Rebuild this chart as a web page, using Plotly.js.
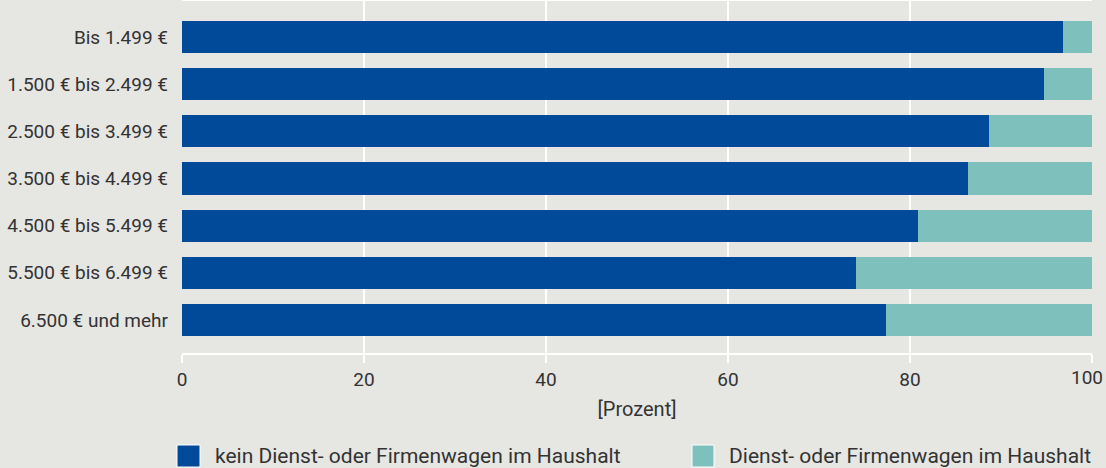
<!DOCTYPE html>
<html>
<head>
<meta charset="utf-8">
<script src="https://cdn.plot.ly/plotly-3.0.1.min.js"></script>
<style>
  html, body { margin: 0; padding: 0; background: #e6e6e2; }
  #chart { width: 1106px; height: 468px; }
</style>
</head>
<body>
<div id="chart"></div>
<script>
const categories = [
  "Bis 1.499 €",
  "1.500 € bis 2.499 €",
  "2.500 € bis 3.499 €",
  "3.500 € bis 4.499 €",
  "4.500 € bis 5.499 €",
  "5.500 € bis 6.499 €",
  "6.500 € und mehr"
];
const seriesNames = [
  "kein Dienst- oder Firmenwagen im Haushalt",
  "Dienst- oder Firmenwagen im Haushalt"
];
const keinDienstwagen = [96.8, 94.7, 88.7, 86.4, 80.9, 74.1, 77.4];
const mitDienstwagen = [3.2, 5.3, 11.3, 13.6, 19.1, 25.9, 22.6];
const xTicks = [0, 20, 40, 60, 80, 100];
const xTitle = "[Prozent]";

const colors = ["#004a99", "#7dc0bc"];
const font = "Roboto, 'DejaVu Sans', sans-serif";
const textColor = "#333333";

const W = 1106, H = 468;
const L = 182, R = 14, T = 1, B = 115;
const pw = W - L - R, ph = H - T - B;
const px = x => (x - L) / pw;
const py = y => (H - B - y) / ph;

const traces = [
  {
    type: "bar", orientation: "h", name: seriesNames[0],
    y: categories, x: keinDienstwagen,
    marker: { color: colors[0] }, hoverinfo: "x+y"
  },
  {
    type: "bar", orientation: "h", name: seriesNames[1],
    y: categories, x: mitDienstwagen,
    marker: { color: colors[1] }, hoverinfo: "x+y"
  }
];

const legendBoxes = [
  { x0: 177, x1: 200, tx: 213 },
  { x0: 692, x1: 714, tx: 727 }
];
const shapes = legendBoxes.map((b, i) => ({
  type: "rect", xref: "paper", yref: "paper",
  x0: px(b.x0), x1: px(b.x1), y0: py(445), y1: py(467),
  fillcolor: colors[i], line: { color: "#ffffff", width: 1 }
}));
const annotations = legendBoxes.map((b, i) => ({
  xref: "paper", yref: "paper", x: px(b.tx), y: py(456),
  xanchor: "left", yanchor: "middle", showarrow: false,
  text: seriesNames[i], font: { family: font, size: 21, color: textColor }
}));
// last tick label, kept inside the page like in the reference
const lastTick = xTicks[xTicks.length - 1];
annotations.push({
  xref: "x", yref: "paper", x: lastTick, y: py(377),
  xanchor: "right", yanchor: "middle", xshift: 13, showarrow: false,
  text: String(lastTick), font: { family: font, size: 19, color: textColor }
});

const layout = {
  width: W, height: H,
  margin: { l: L, r: R, t: T, b: B, pad: 0 },
  paper_bgcolor: "#e6e6e2",
  plot_bgcolor: "#e6e6e2",
  barmode: "stack",
  bargap: 0.32,
  showlegend: false,
  font: { family: font, size: 19, color: textColor },
  xaxis: {
    range: [0, 100],
    tickvals: xTicks,
    ticktext: xTicks.map(v => v === lastTick ? "" : String(v)),
    showgrid: true, gridcolor: "#ffffff", gridwidth: 2,
    zeroline: false,
    showline: true, linecolor: "#ffffff", linewidth: 2, mirror: true,
    ticks: "outside", ticklen: 8, tickwidth: 2, tickcolor: "#ffffff",
    tickfont: { family: font, size: 19, color: textColor },
    title: { text: xTitle, font: { family: font, size: 20, color: textColor }, standoff: 12 },
    fixedrange: true
  },
  yaxis: {
    type: "category",
    categoryorder: "array", categoryarray: categories,
    range: [6.7, -0.763],
    showgrid: false, zeroline: false, showline: false,
    ticks: "", ticklabelstandoff: 13,
    tickfont: { family: font, size: 19, color: textColor },
    fixedrange: true
  },
  shapes: shapes,
  annotations: annotations
};

Plotly.newPlot("chart", traces, layout, { displayModeBar: false, staticPlot: true });
</script>
</body>
</html>
